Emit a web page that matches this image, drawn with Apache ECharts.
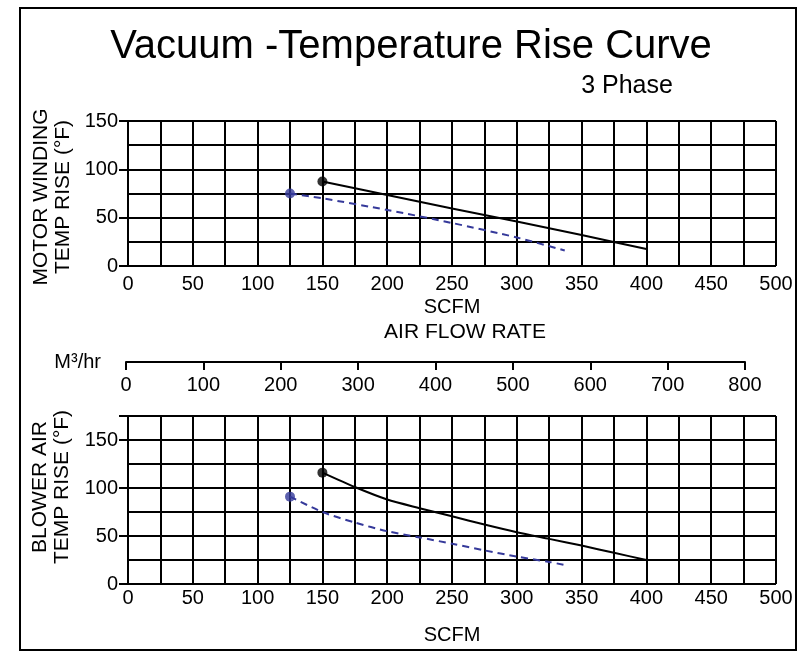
<!DOCTYPE html>
<html>
<head>
<meta charset="utf-8">
<script src="https://cdn.jsdelivr.net/npm/echarts@6/dist/echarts.min.js"></script>
<style>
html,body{margin:0;padding:0;background:#fff;}
#c{width:800px;height:656px;}
</style>
</head>
<body>
<div id="c"></div>
<script>
const FONT = '"Liberation Sans", Arial, Helvetica, sans-serif';

// ---- Text ----
const chartTitle = 'Vacuum -Temperature Rise Curve';
const chartSubtitle = '3 Phase';
const topYName = 'MOTOR WINDING\nTEMP RISE (°F)';
const bottomYName = 'BLOWER AIR\nTEMP RISE (°F)';
const xName = 'SCFM';
const flowName = 'AIR FLOW RATE';
const m3Name = 'M³/hr';

// ---- Axis ranges ----
const scfmRange = [0, 500];
const m3hrRange = [0, 800];
const motorYRange = [0, 150];
const blowerYRange = [0, 175];

// ---- Data [SCFM, °F] ----
const motorSolid  = [[150, 87.5], [200, 73.5], [250, 59.5], [300, 46], [350, 32], [400, 17.5]];
const motorDashed = [[125, 75], [150, 70], [200, 58], [250, 44.5], [300, 29.5], [337, 16]];
const blowerSolid = [[150, 116], [175, 101], [200, 88], [225, 79], [250, 70.5], [275, 62], [300, 54], [325, 47], [350, 40], [375, 32.5], [400, 25]];
const blowerDashed = [[125, 91], [150, 75], [175, 64], [200, 55], [225, 48.5], [250, 42], [275, 35], [300, 28.5], [325, 23], [336, 20]];

const BLACK = '#000';
const BLUE = '#35399a';

const chart = echarts.init(document.getElementById('c'), null, {renderer: 'canvas'});

const labelStyle = {color: BLACK, fontSize: 20, fontFamily: FONT};
const gridLine = {show: true, lineStyle: {color: BLACK, width: 2}};

function plotX(gridIndex, margin, nameGap) {
  return {
    gridIndex, type: 'value', min: scfmRange[0], max: scfmRange[1], interval: 25,
    axisLine: {show: false}, axisTick: {show: false},
    splitLine: gridLine,
    axisLabel: Object.assign({margin, formatter: v => (v % 50 === 0 ? String(v) : '')}, labelStyle),
    name: xName, nameLocation: 'middle', nameGap,
    nameTextStyle: {color: BLACK, fontSize: 20, fontFamily: FONT}
  };
}
function plotYGrid(gridIndex, range) {
  return {
    gridIndex, type: 'value', position: 'left', min: range[0], max: range[1], interval: 25,
    axisLine: {show: false}, axisTick: {show: false}, axisLabel: {show: false},
    splitLine: gridLine
  };
}
function plotYLabels(gridIndex, range) {
  return {
    gridIndex, type: 'value', position: 'left', offset: 0, min: range[0], max: range[1], interval: 50,
    axisLine: {show: false},
    axisTick: {show: true, length: 9, lineStyle: {color: BLACK, width: 2}},
    axisLabel: Object.assign({margin: 10, formatter: v => (v % 50 === 0 ? String(v) : '')}, labelStyle),
    splitLine: {show: false}
  };
}

function solid(xi, yi, data) {
  return {type: 'line', xAxisIndex: xi, yAxisIndex: yi, data, symbol: 'none', smooth: 0.25,
    lineStyle: {color: BLACK, width: 2}, z: 5};
}
function dashed(xi, yi, data) {
  return {type: 'line', xAxisIndex: xi, yAxisIndex: yi, data, symbol: 'none', smooth: 0.25,
    lineStyle: {color: BLUE, width: 2, type: [7, 5]}, z: 5};
}
function dot(xi, yi, pt, color) {
  return {type: 'scatter', xAxisIndex: xi, yAxisIndex: yi, data: [pt], symbol: 'circle', symbolSize: 10,
    itemStyle: {color}, z: 6};
}

const option = {
  animation: false,
  backgroundColor: '#fff',
  grid: [
    {left: 128, right: 24, top: 121, bottom: 390, containLabel: false, outerBoundsMode: 'none'},
    {left: 128, right: 24, top: 416, bottom: 72, containLabel: false, outerBoundsMode: 'none'},
    {left: 126, right: 55, top: 340, bottom: 294, containLabel: false, outerBoundsMode: 'none'}
  ],
  xAxis: [
    plotX(0, 8, 31),
    plotX(1, 4, 41),
    {
      gridIndex: 2, type: 'value', position: 'bottom', min: m3hrRange[0], max: m3hrRange[1], interval: 100,
      axisLine: {show: true, onZero: false, lineStyle: {color: BLACK, width: 2}},
      axisTick: {show: true, length: 8, lineStyle: {color: BLACK, width: 2}},
      splitLine: {show: false},
      axisLabel: Object.assign({margin: 13}, labelStyle),
      name: m3Name, nameLocation: 'start', nameGap: 25,
      nameTextStyle: {color: BLACK, fontSize: 20, fontFamily: FONT}
    }
  ],
  yAxis: [
    plotYGrid(0, motorYRange),
    plotYLabels(0, motorYRange),
    plotYGrid(1, blowerYRange),
    plotYLabels(1, blowerYRange),
    {gridIndex: 2, type: 'value', show: false, min: 0, max: 1}
  ],
  series: [
    solid(0, 0, motorSolid),
    dashed(0, 0, motorDashed),
    dot(0, 0, motorSolid[0], BLACK),
    dot(0, 0, motorDashed[0], BLUE),
    solid(1, 2, blowerSolid),
    dashed(1, 2, blowerDashed),
    dot(1, 2, blowerSolid[0], BLACK),
    dot(1, 2, blowerDashed[0], BLUE)
  ],
  graphic: [
    {type: 'rect', z: -10, silent: true, shape: {x: 20, y: 8, width: 776, height: 642},
      style: {fill: 'none', stroke: BLACK, lineWidth: 2}},
    {type: 'text', x: 411, y: 47, silent: true,
      style: {text: chartTitle, font: '40px ' + FONT, fill: BLACK, align: 'center', verticalAlign: 'middle', textAlign: 'center', textVerticalAlign: 'middle'}},
    {type: 'text', x: 627, y: 86, silent: true,
      style: {text: chartSubtitle, font: '25px ' + FONT, fill: BLACK, align: 'center', verticalAlign: 'middle', textAlign: 'center', textVerticalAlign: 'middle'}},
    {type: 'text', x: 465, y: 332, silent: true,
      style: {text: flowName, font: '21px ' + FONT, fill: BLACK, align: 'center', verticalAlign: 'middle', textAlign: 'center', textVerticalAlign: 'middle'}},
    {type: 'text', x: 52, y: 197, rotation: Math.PI / 2, silent: true,
      style: {text: topYName, font: '21px ' + FONT, lineHeight: 21.5, fill: BLACK, align: 'center', verticalAlign: 'middle', textAlign: 'center', textVerticalAlign: 'middle'}},
    {type: 'text', x: 51, y: 487, rotation: Math.PI / 2, silent: true,
      style: {text: bottomYName, font: '21px ' + FONT, lineHeight: 21.5, fill: BLACK, align: 'center', verticalAlign: 'middle', textAlign: 'center', textVerticalAlign: 'middle'}}
  ]
};

chart.setOption(option);
</script>
</body>
</html>
